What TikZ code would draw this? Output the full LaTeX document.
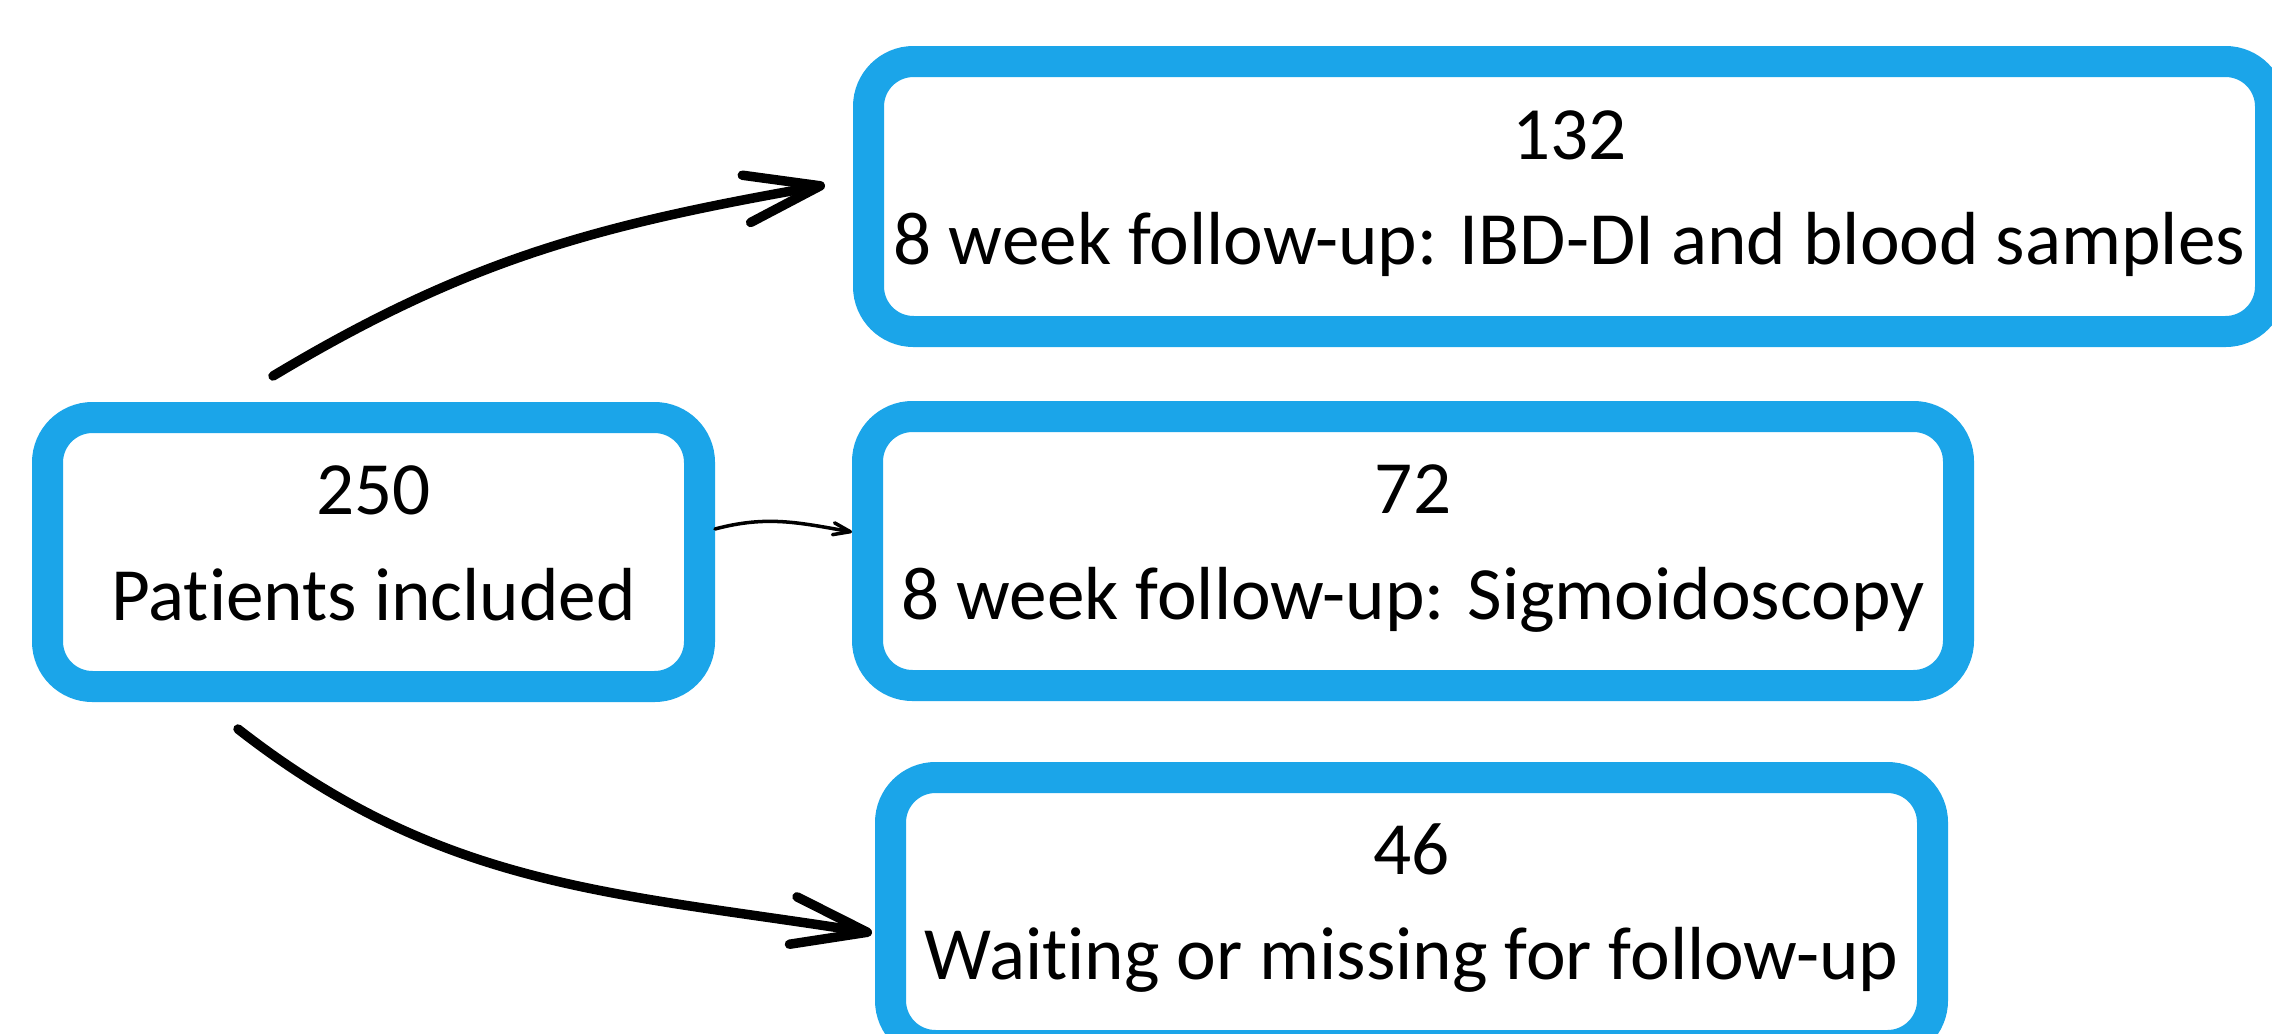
\documentclass[tikz,border=0pt]{standalone}
\usepackage{fontspec}
\setmainfont{Carlito}[Ligatures=NoCommon]
\usetikzlibrary{arrows.meta}
\definecolor{boxblue}{RGB}{27,165,233}
% strut so every line gets the same height and depth
\newcommand{\ls}{\rule[-0.24cm]{0pt}{0.79cm}}

\tikzset{
	countbox/.style={draw=boxblue, line width=0.31cm, rounded corners=0.45cm, fill=white, align=center, inner sep=0pt, font=\fontsize{21.4pt}{29.9pt}\selectfont},
	bigflow/.style={line width=2.7pt, line cap=round, -{Straight Barb[length=0.75cm, width=0.48cm, round]}},
	smallflow/.style={line width=1pt, line cap=round, -{Straight Barb[length=0.17cm, width=0.12cm, round]}}
}

\begin{document}
\begin{tikzpicture}
		%%%%% START %%%%%
		
		\useasboundingbox (0, 0) rectangle (22.72, -10.33);
		\fill[white] (0, 0) rectangle (22.72, -10.33);
		\clip (0, 0) rectangle (22.72, -10.33);
		
		\node[countbox, minimum width=6.52cm, minimum height=2.69cm] (included) at (3.735, -5.52) {\ls 250\\\ls Patients included};
		\node[countbox, minimum width=14.02cm, minimum height=2.70cm] (bloods) at (15.695, -1.965) {\ls 132\\\ls 8 week follow-up: IBD-DI and blood samples};
		\node[countbox, minimum width=10.91cm, minimum height=2.69cm] (sigmo) at (14.13, -5.51) {\ls 72\\\ls 8 week follow-up: Sigmoidoscopy};
		\node[countbox, minimum width=10.42cm, minimum height=2.68cm] (waiting) at (14.115, -9.115) {\ls 46\\\ls Waiting or missing for follow-up};
		
		\draw[bigflow] ([xshift=-1.005cm, yshift=0.26cm]included.north) to[out=31, in=190] ([xshift=-0.28cm, yshift=0.115cm]bloods.west);
		\draw[smallflow] ([yshift=0.23cm]included.east) to[out=15, in=170] ([yshift=0.19cm]sigmo.west);
		\draw[bigflow] ([xshift=-1.355cm, yshift=-0.27cm]included.south) to[out=-38, in=171] ([xshift=-0.03cm, yshift=-0.215cm]waiting.west);
		
		%%%%% END %%%%%
\end{tikzpicture}
\end{document}
